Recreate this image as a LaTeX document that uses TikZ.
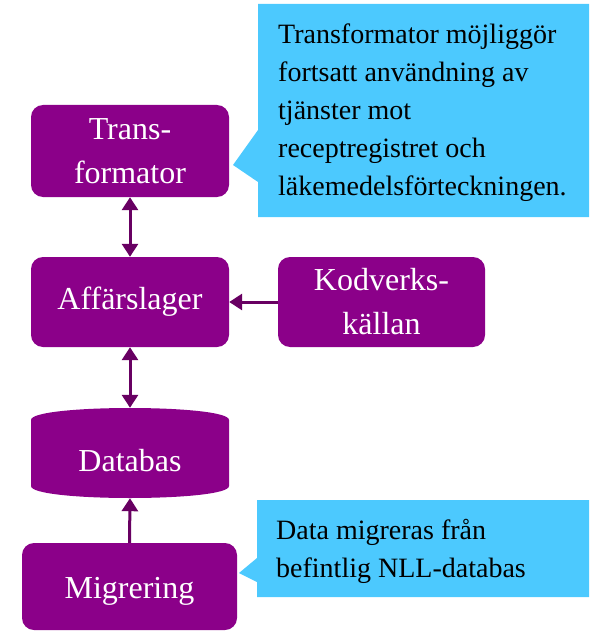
\documentclass[tikz,border=0pt]{standalone}
\usepackage{fontspec}
\setmainfont{Liberation Serif}
\usetikzlibrary{arrows.meta}
\definecolor{boxpurple}{RGB}{139,0,137}
\definecolor{arrowpurple}{RGB}{104,0,98}
\definecolor{calloutblue}{RGB}{76,201,254}
\tikzset{
 pbox/.style={fill=boxpurple, text=white, rounded corners=12pt, inner sep=0pt, align=center, font=\fontsize{32}{44}\selectfont},
 conn/.style={draw=arrowpurple, line width=3pt, -{Triangle[length=13pt,width=16pt]}},
 bconn/.style={draw=arrowpurple, line width=3pt, {Triangle[length=13pt,width=16pt]}-{Triangle[length=13pt,width=16pt]}},
 ctext/.style={anchor=north west, inner sep=0pt, align=left, font=\fontsize{28}{38}\selectfont},
 callout/.style={fill=calloutblue},
}
\begin{document}
\begin{tikzpicture}[x=1pt,y=-1pt]
\useasboundingbox (0,0) rectangle (589,631);
% callouts
\fill[callout] (258,4) -- (589,4) -- (589,217) -- (258,217) -- (258,182) -- (233,165) -- (258,130) -- cycle;
\fill[callout] (257,500) -- (589,500) -- (589,597) -- (257,597) -- (257,582) -- (239,573) -- (257,558) -- cycle;
\node[ctext] (c1) at (278,24) {Transformator möjliggör\\fortsatt användning av\\tjänster mot\\receptregistret och\\läkemedelsförteckningen.};
\node[ctext] (c2) at (276,519) {Data migreras från\\befintlig NLL-databas};
% boxes
\node[pbox, minimum width=198pt, minimum height=92pt] (trans) at (130,151) {Trans-\\formator};
\node[pbox, minimum width=198pt, minimum height=90pt] (aff) at (130,302) {Affärslager};
\node[pbox, minimum width=207pt, minimum height=90pt] (kod) at (381.5,302) {Kodverks-\\källan};
\node[pbox, minimum width=215pt, minimum height=87pt, text height=23pt, text depth=0pt] (mig) at (129.5,586.5) {Migrering};
% database
\fill[boxpurple] (31,420) .. controls (31,404) and (229,404) .. (229,420) -- (229,486) .. controls (229,502) and (31,502) .. (31,486) -- cycle;
\node[inner sep=0pt, minimum width=198pt, minimum height=90pt, text height=36pt, text depth=0pt, text=white, font=\fontsize{32}{44}\selectfont] (db) at (130,453) {Databas};
% connectors
\draw[bconn] (trans.south) -- (aff.north);
\draw[bconn] (aff.south) -- (db.north);
\draw[conn] (kod.west) -- (aff.east);
\draw[conn] (mig.north) -- (db.south);
\end{tikzpicture}
\end{document}
